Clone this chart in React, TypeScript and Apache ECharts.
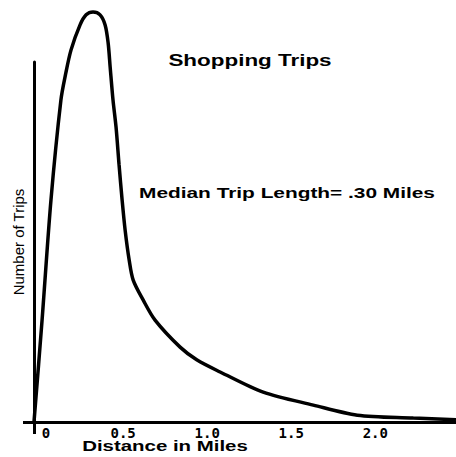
import React, { useEffect, useRef } from "react";
import * as echarts from "echarts";

// Distance in miles and relative number of trips (axis top = 100)
const distance = [
  -0.03, 0.018, 0.071, 0.13, 0.157, 0.19, 0.244, 0.28, 0.321, 0.363,
  0.393, 0.411, 0.423, 0.44, 0.458, 0.476, 0.494, 0.512, 0.536, 0.56, 0.619,
  0.69, 0.839, 0.94, 1.077, 1.333, 1.631, 1.893, 2.226, 2.48,
];
const trips = [
  0, 28.3, 61.7, 89.4, 96.4, 103.3, 110.3, 113.1, 113.9, 113.1, 110.3,
  105.3, 98.6, 89.4, 81.9, 71.4, 61.7, 53.3, 45, 39.4, 33.9, 28.3, 20.8, 17.2,
  13.9, 8.3, 4.7, 1.9, 1.1, 0.6,
];
const xTicks = [0, 0.5, 1, 1.5, 2];
const titleText = "Shopping Trips";
const noteText = "Median Trip Length= .30 Miles";
const xName = "Distance in Miles";
const yName = "Number of Trips";

const FONT = "'Liberation Sans', Arial, Helvetica, sans-serif";

export default function App() {
  const ref = useRef<HTMLDivElement>(null);
  useEffect(() => {
    if (!ref.current) return;
    const chart = echarts.init(ref.current, null, { renderer: "svg" });
    const data = distance.map((d, i) => [d, trips[i]]);
    chart.setOption({
      animation: false,
      backgroundColor: "#ffffff",
      grid: { left: 34, right: 0, top: 62, bottom: 35 },
      xAxis: {
        type: "value",
        min: -0.03,
        max: 2.48,
        axisLine: { onZero: false, lineStyle: { color: "#000", width: 3 } },
        axisTick: {
          show: true,
          customValues: [-0.03],
          length: 12,
          lineStyle: { color: "#000", width: 3 },
        },
        splitLine: { show: false },
        axisLabel: {
          customValues: xTicks,
          margin: 4,
          color: "#000",
          fontFamily: "'DejaVu Sans Mono', monospace",
          fontWeight: "bold",
          fontSize: 14,
          formatter: (v: number) => (v === 0 ? "{z|0}" : v.toFixed(1)),
          rich: {
            z: {
              padding: [0, 0, 0, 14],
              color: "#000",
              fontFamily: "'DejaVu Sans Mono', monospace",
              fontWeight: "bold",
              fontSize: 14,
            },
          },
        },
      },
      yAxis: {
        type: "value",
        min: 0,
        max: 100,
        name: yName,
        nameLocation: "middle",
        nameRotate: 90,
        nameGap: 8,
        nameTextStyle: { color: "#000", fontFamily: FONT, fontSize: 15 },
        axisLine: { show: true, onZero: false, lineStyle: { color: "#000", width: 3 } },
        axisTick: {
          show: true,
          customValues: [0],
          length: 11,
          lineStyle: { color: "#000", width: 3 },
        },
        axisLabel: { show: false },
        splitLine: { show: false },
      },
      graphic: [
        {
          type: "text",
          x: 250,
          y: 60,
          scaleX: 1.32,
          style: {
            text: titleText,
            font: `bold 17px ${FONT}`,
            fill: "#000",
            align: "center",
            verticalAlign: "middle",
          },
        },
        {
          type: "text",
          x: 287,
          y: 193,
          scaleX: 1.39,
          style: {
            text: noteText,
            font: `bold 15px ${FONT}`,
            fill: "#000",
            align: "center",
            verticalAlign: "middle",
          },
        },
        {
          type: "text",
          x: 165,
          y: 446,
          scaleX: 1.46,
          style: {
            text: xName,
            font: `bold 14px ${FONT}`,
            fill: "#000",
            align: "center",
            verticalAlign: "middle",
          },
        },
      ],
      series: [
        {
          type: "line",
          data,
          smooth: 0.3,
          showSymbol: false,
          clip: false,
          lineStyle: { color: "#000", width: 3.5 },
        },
      ],
    });
    return () => chart.dispose();
  }, []);
  return (
    <div
      ref={ref}
      style={{ position: "fixed", left: 0, top: 0, width: 456, height: 457 }}
    />
  );
}
